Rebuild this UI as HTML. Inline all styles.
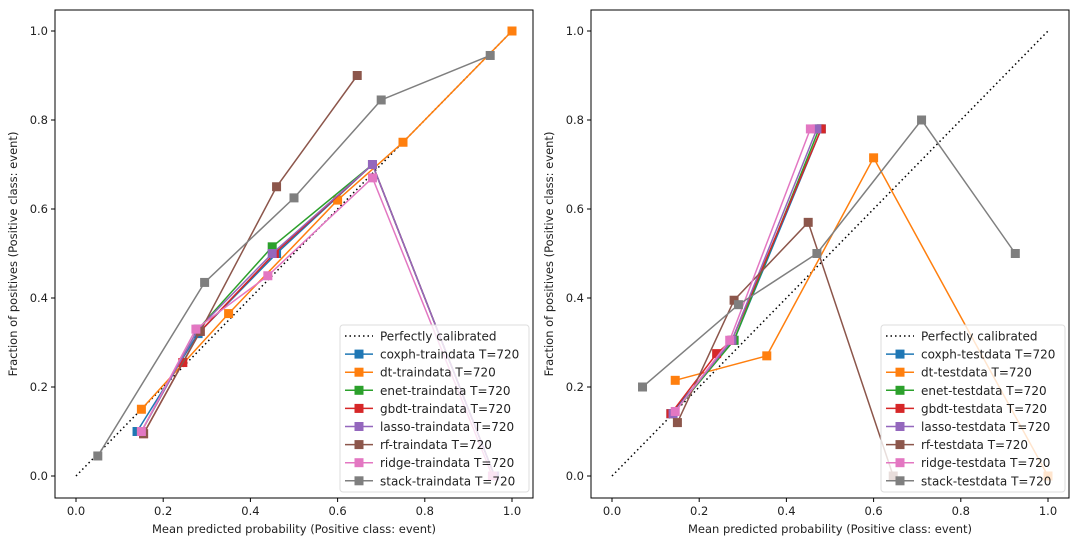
<!DOCTYPE html>
<html><head><meta charset="utf-8"><style>
body{margin:0;background:#fff;width:1080px;height:544px;overflow:hidden}
svg{font-family:"DejaVu Sans","Liberation Sans",sans-serif}
</style></head><body>
<svg id="c" width="1080" height="544"></svg>
<script>
const ticks=[0,0.2,0.4,0.6,0.8,1.0];
const tickLabels=["0.0","0.2","0.4","0.6","0.8","1.0"];
const names=["coxph","dt","enet","gbdt","lasso","rf","ridge","stack"];
const colors=["#1f77b4","#ff7f0e","#2ca02c","#d62728","#9467bd","#8c564b","#e377c2","#7f7f7f"];
const trainX=[[0.14,0.28,0.46,0.68,0.96],[0.15,0.35,0.60,0.75,1.0],[0.15,0.28,0.45,0.68,0.96],[0.155,0.245,0.285,0.455,0.68,0.96],[0.15,0.28,0.45,0.68,0.96],[0.155,0.285,0.46,0.645],[0.15,0.275,0.44,0.68,0.955],[0.05,0.295,0.50,0.70,0.95]];
const trainY=[[0.10,0.32,0.50,0.70,0.0],[0.15,0.365,0.62,0.75,1.0],[0.10,0.33,0.515,0.70,0.0],[0.095,0.255,0.325,0.50,0.70,0.0],[0.10,0.33,0.50,0.70,0.0],[0.095,0.325,0.65,0.90],[0.10,0.33,0.45,0.67,0.0],[0.045,0.435,0.625,0.845,0.945]];
const testX=[[0.135,0.28,0.48],[0.145,0.355,0.60,1.0],[0.14,0.28,0.475],[0.135,0.24,0.275,0.48],[0.14,0.275,0.47],[0.15,0.28,0.45,0.645],[0.145,0.27,0.455],[0.07,0.29,0.47,0.71,0.925]];
const testY=[[0.14,0.305,0.78],[0.215,0.27,0.715,0.0],[0.14,0.305,0.78],[0.14,0.275,0.305,0.78],[0.14,0.305,0.78],[0.12,0.395,0.57,0.0],[0.145,0.305,0.78],[0.2,0.385,0.5,0.80,0.50]];
const svg=document.getElementById('c');const NS="http://www.w3.org/2000/svg";
function mk(t,a,p){const e=document.createElementNS(NS,t);for(const k in a)e.setAttribute(k,a[k]);(p||svg).appendChild(e);return e;}
function panel(x0,suffix,X,Y,pname){
  const L=x0,T=10,W=478,H=488;
  const sx=v=>L+21+v*436, sy=v=>476-v*445;
  const g=mk('g',{});
  
  
  const d=mk('line',{x1:sx(0),y1:sy(0),x2:sx(1),y2:sy(1),stroke:'#000','stroke-width':1.5,'stroke-dasharray':'1.5,3'},g);
  
  
  for(let s=0;s<names.length;s++){
    const sg=mk('g',{},g);
    
    
    const pts=X[s].map((v,i)=>sx(v)+','+sy(Y[s][i])).join(' ');
    mk('polyline',{points:pts,fill:'none',stroke:colors[s],'stroke-width':1.5},sg);
    X[s].forEach((v,i)=>{const r=mk('rect',{x:sx(v)-4.5,y:sy(Y[s][i])-4.5,width:9,height:9,fill:colors[s]},sg);
      
      });
  }
  const fr=mk('rect',{x:L,y:T,width:W,height:H,fill:'none',stroke:'#000','stroke-width':1},g);
  
  
  ticks.forEach((t,i)=>{
    mk('line',{x1:sx(t),y1:T+H,x2:sx(t),y2:T+H+4,stroke:'#000'},g);
    const tx=mk('text',{x:sx(t),y:T+H+17,'font-size':11.5,'text-anchor':'middle',fill:'#222'},g);tx.textContent=tickLabels[i];
    
    
    mk('line',{x1:L-4,y1:sy(t),x2:L,y2:sy(t),stroke:'#000'},g);
    const ty=mk('text',{x:L-7,y:sy(t)+4,'font-size':11.5,'text-anchor':'end',fill:'#222'},g);ty.textContent=tickLabels[i];
    
    
  });
  const xl=mk('text',{x:L+W/2,y:533,'font-size':11.5,'text-anchor':'middle',fill:'#222'},g);xl.textContent='Mean predicted probability (Positive class: event)';
  
  
  const yl=mk('text',{x:0,y:0,'font-size':11.5,'text-anchor':'middle',fill:'#222',transform:`translate(${L-38},${T+H/2}) rotate(-90)`},g);yl.textContent='Fraction of positives (Positive class: event)';
  
  
  const lw=suffix==='traindata'?189:184, lx=L+W-lw-4, ly=325;
  const lg=mk('g',{},g);
  
  
  mk('rect',{x:lx,y:ly,width:lw,height:167,rx:3,fill:'rgba(255,255,255,0.8)',stroke:'#ddd'},lg);
  const labels=['Perfectly calibrated'].concat(names.map(n=>n+'-'+suffix+' T=720'));
  labels.forEach((lab,i)=>{
    const yy=ly+11+i*18.1;
    if(i===0)mk('line',{x1:lx+5,y1:yy,x2:lx+33,y2:yy,stroke:'#000','stroke-width':1.5,'stroke-dasharray':'1.5,3'},lg);
    else{mk('line',{x1:lx+5,y1:yy,x2:lx+33,y2:yy,stroke:colors[i-1],'stroke-width':1.5},lg);
      mk('rect',{x:lx+14.5,y:yy-4.5,width:9,height:9,fill:colors[i-1]},lg);}
    const t=mk('text',{x:lx+40,y:yy+4.5,'font-size':12,fill:'#222'},lg);t.textContent=lab;
    
    
  });
}
panel(55,'traindata',trainX,trainY,'train-calibration-plot');
panel(591,'testdata',testX,testY,'test-calibration-plot');
</script>
</body></html>
